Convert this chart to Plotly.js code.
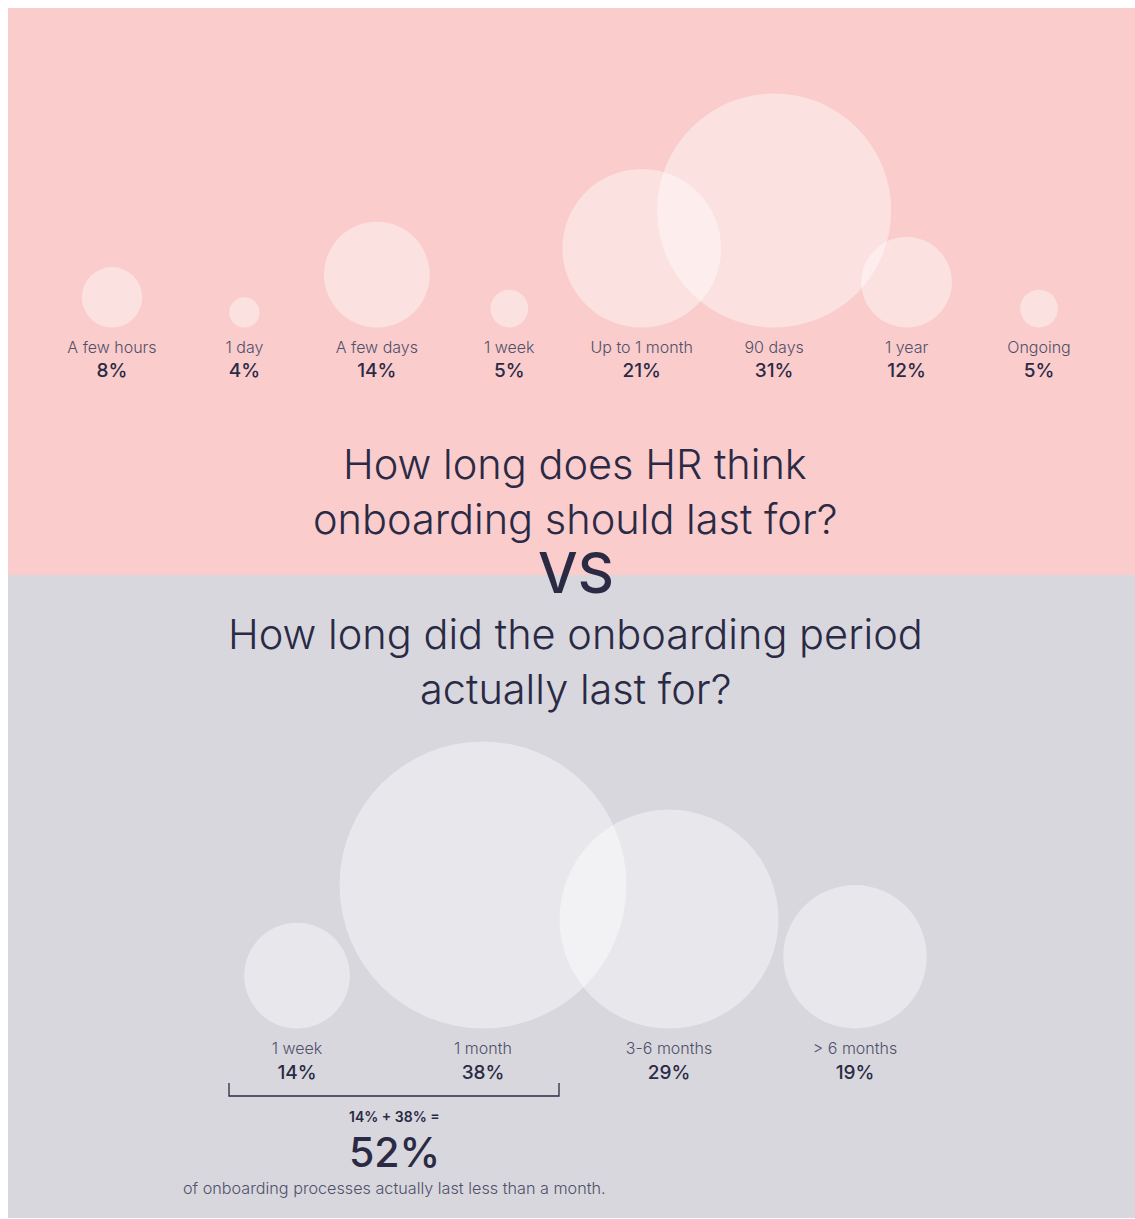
<!DOCTYPE html>
<html>
<head>
<meta charset="utf-8">
<script src="https://cdn.plot.ly/plotly-3.0.1.min.js"></script>
<style>html,body{margin:0;padding:0;background:#fff;}#chart{width:1135px;height:1219px;}</style>
</head>
<body>
<div id="chart"></div>
<script>
// ---- data ----
const hrCategories = ["A few hours", "1 day", "A few days", "1 week", "Up to 1 month", "90 days", "1 year", "Ongoing"];
const hrValues = [8, 4, 14, 5, 21, 31, 12, 5];
const actualCategories = ["1 week", "1 month", "3-6 months", "> 6 months"];
const actualValues = [14, 38, 29, 19];
const summaryParts = [14, 38];
const topTitle = ["How long does HR think", "onboarding should last for?"];
const bottomTitle = ["How long did the onboarding period", "actually last for?"];
const vsText = "VS";
const summaryNote = "of onboarding processes actually last less than a month.";

// ---- styling ----
const PX_PER_PCT = 7.55;        // bubble diameter in px per percentage point
const TOP_BASE = 327.5, BOT_BASE = 1028.5;
const INK = "#2a2a45", LABEL = "#50506a";
const FONT = "Inter, 'Open Sans', sans-serif";

const pct = v => v + "%";
const centerY = (base, v) => base - v * PX_PER_PCT / 2;

const traces = [
  {
    type: "scatter", mode: "markers", xaxis: "x", yaxis: "y",
    x: hrCategories, y: hrValues.map(v => centerY(TOP_BASE, v)),
    marker: { size: hrValues, sizemode: "diameter", sizeref: 1 / PX_PER_PCT,
              color: "rgba(255,255,255,0.6)", line: { width: 0 } },
    hoverinfo: "skip"
  },
  {
    type: "scatter", mode: "text", xaxis: "x", yaxis: "y",
    x: hrCategories, y: hrCategories.map(() => TOP_BASE + 21),
    text: hrCategories, textposition: "middle center",
    textfont: { family: FONT, size: 16, color: LABEL, weight: 300 }, hoverinfo: "skip"
  },
  {
    type: "scatter", mode: "text", xaxis: "x", yaxis: "y",
    x: hrCategories, y: hrCategories.map(() => TOP_BASE + 45),
    text: hrValues.map(pct), textposition: "middle center",
    textfont: { family: FONT, size: 19, color: INK, weight: 500 }, hoverinfo: "skip"
  },
  {
    type: "scatter", mode: "markers", xaxis: "x2", yaxis: "y",
    x: actualCategories, y: actualValues.map(v => centerY(BOT_BASE, v)),
    marker: { size: actualValues, sizemode: "diameter", sizeref: 1 / PX_PER_PCT,
              color: "rgba(255,255,255,0.6)", line: { width: 0 } },
    hoverinfo: "skip"
  },
  {
    type: "scatter", mode: "text", xaxis: "x2", yaxis: "y",
    x: actualCategories, y: actualCategories.map(() => BOT_BASE + 21),
    text: actualCategories, textposition: "middle center",
    textfont: { family: FONT, size: 16, color: LABEL, weight: 300 }, hoverinfo: "skip"
  },
  {
    type: "scatter", mode: "text", xaxis: "x2", yaxis: "y",
    x: actualCategories, y: actualCategories.map(() => BOT_BASE + 46),
    text: actualValues.map(pct), textposition: "middle center",
    textfont: { family: FONT, size: 19, color: INK, weight: 500 }, hoverinfo: "skip"
  }
];

const total = summaryParts.reduce((a, b) => a + b, 0);
const ann = (text, x, y, size, weight, color) => ({
  text, x, y, xref: "x3", yref: "y", showarrow: false, xanchor: "center", yanchor: "middle",
  font: { family: FONT, size, color: color || INK, weight }
});

const layout = {
  width: 1135, height: 1219,
  margin: { l: 0, r: 0, t: 0, b: 0 },
  paper_bgcolor: "#ffffff", plot_bgcolor: "rgba(0,0,0,0)",
  showlegend: false,
  xaxis: { type: "category", range: [-112 / 132.43, 7 + 96 / 132.43], visible: false, fixedrange: true },
  xaxis2: { type: "category", range: [-297 / 186, 3 + 280 / 186], visible: false, overlaying: "x", fixedrange: true },
  xaxis3: { range: [0, 1135], visible: false, overlaying: "x", fixedrange: true },
  yaxis: { range: [1219, 0], visible: false, fixedrange: true },
  shapes: [
    { type: "rect", xref: "x3", yref: "y", x0: 8, x1: 1135, y0: 8, y1: 575, fillcolor: "#facccc", line: { width: 0 }, layer: "below" },
    { type: "rect", xref: "x3", yref: "y", x0: 8, x1: 1135, y0: 575, y1: 1218, fillcolor: "#d8d7de", line: { width: 0 }, layer: "below" },
    { type: "path", xref: "x3", yref: "y", path: "M229,1083 L229,1096 L559,1096 L559,1083", line: { color: INK, width: 1.3 } }
  ],
  annotations: [
    ann(topTitle[0], 575, 464, 41.5, 300),
    ann(topTitle[1], 575, 519, 41.5, 300),
    ann(vsText, 576, 573, 56, 500),
    ann(bottomTitle[0], 575, 634, 41.5, 300),
    ann(bottomTitle[1], 575, 689, 41.5, 300),
    ann(summaryParts.map(pct).join(" + ") + " =", 394, 1116, 14, 600),
    ann(pct(total), 394, 1152, 41, 500),
    ann(summaryNote, 394, 1188, 16.2, 300, LABEL)
  ]
};

Plotly.newPlot("chart", traces, layout, { staticPlot: true, displayModeBar: false });
</script>
</body>
</html>
